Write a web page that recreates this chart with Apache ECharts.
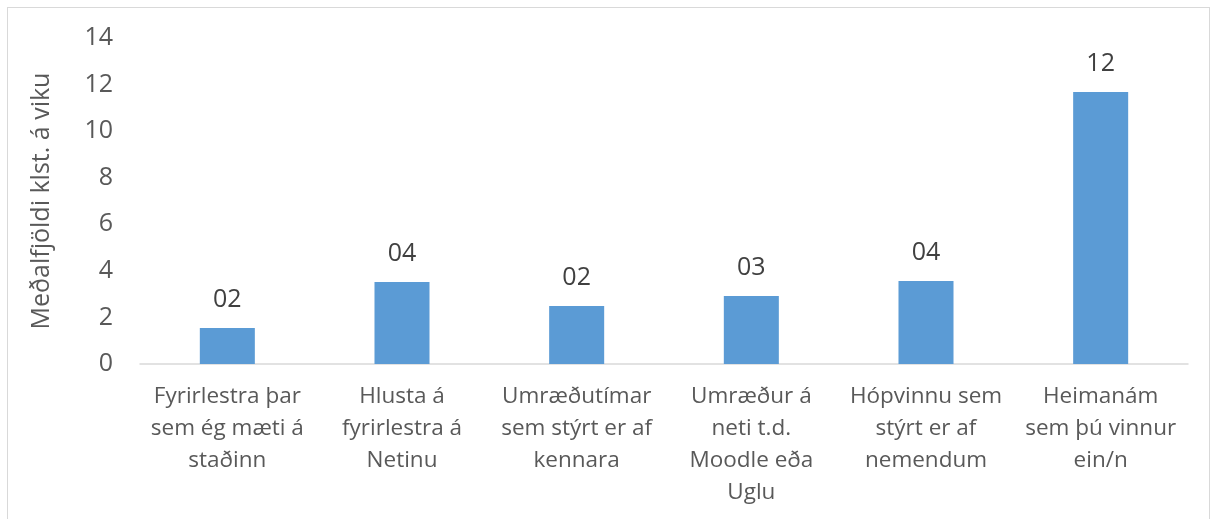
<!DOCTYPE html>
<html>
<head>
<meta charset="utf-8">
<script src="https://cdn.jsdelivr.net/npm/echarts@6/dist/echarts.min.js"></script>
<style>
  html, body { margin: 0; padding: 0; background: #fff; }
  #frame { position: absolute; left: 7px; top: 7px; width: 1203px; height: 530px; border: 1px solid #d9d9d9; box-sizing: border-box; }
  #chart { position: absolute; left: 0; top: 0; width: 1213px; height: 519px; }
</style>
</head>
<body>
<div id="frame"></div>
<div id="chart"></div>
<script>
const categories = [
  "Fyrirlestra þar\nsem ég mæti á\nstaðinn",
  "Hlusta á\nfyrirlestra á\nNetinu",
  "Umræðutímar\nsem stýrt er af\nkennara",
  "Umræður á\nneti t.d.\nMoodle eða\nUglu",
  "Hópvinnu sem\nstýrt er af\nnemendum",
  "Heimanám\nsem þú vinnur\nein/n"
];
const hours = [1.55, 3.52, 2.49, 2.92, 3.56, 11.68];
const yTicks = [0, 2, 4, 6, 8, 10, 12, 14];

const font = "'Open Sans', sans-serif";
const chart = echarts.init(document.getElementById("chart"), null, { renderer: "canvas" });

chart.setOption({
  animation: false,
  textStyle: { fontFamily: font },
  grid: { left: 140, right: 25, top: 38, bottom: 155, containLabel: false },
  xAxis: {
    type: "category",
    data: categories,
    axisLine: { lineStyle: { color: "#d9d9d9", width: 1.5 } },
    axisTick: { show: false },
    axisLabel: { color: "#595959", fontSize: 22.5, lineHeight: 32, margin: 17, interval: 0, fontFamily: font }
  },
  yAxis: {
    type: "value",
    min: yTicks[0],
    max: yTicks[yTicks.length - 1],
    interval: 2,
    name: "Meðalfjöldi klst. á viku",
    nameLocation: "middle",
    nameGap: 86,
    nameTextStyle: { color: "#595959", fontSize: 25, fontFamily: font },
    axisLine: { show: false },
    axisTick: { show: false },
    splitLine: { show: false },
    axisLabel: { color: "#595959", fontSize: 25, margin: 27, fontFamily: font }
  },
  series: [{
    type: "bar",
    data: hours,
    barWidth: "31.5%",
    itemStyle: { color: "#5b9bd5" },
    label: {
      show: true,
      position: "top",
      distance: 16,
      color: "#404040",
      fontSize: 25,
      fontFamily: font,
      formatter: p => String(Math.round(p.value)).padStart(2, "0")
    }
  }]
});
</script>
</body>
</html>
